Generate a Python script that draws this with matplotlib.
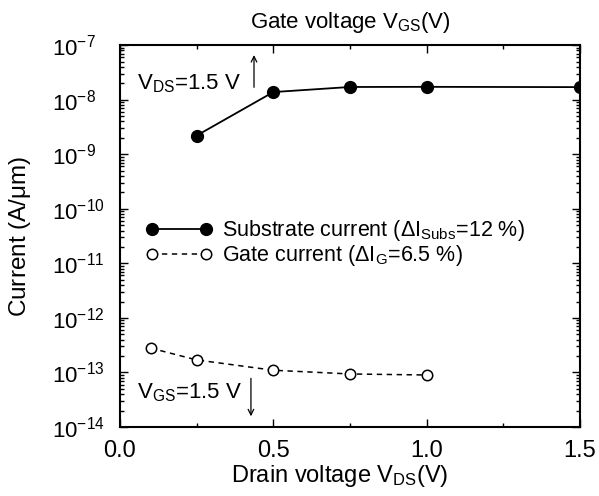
import numpy as np
import matplotlib
matplotlib.use('Agg')
import matplotlib.pyplot as plt
from matplotlib.ticker import LogLocator, MultipleLocator, NullFormatter

# data
vds_subs = [0.25, 0.5, 0.75, 1.0, 1.5]
i_subs = [2.2e-9, 1.38e-8, 1.71e-8, 1.72e-8, 1.70e-8]
vds_gate = [0.1, 0.25, 0.5, 0.75, 1.0]
i_gate = [2.8e-13, 1.7e-13, 1.1e-13, 9.4e-14, 9.0e-14]

plt.rcParams['font.family'] = ['Liberation Sans', 'DejaVu Sans']
plt.rcParams['mathtext.fontset'] = 'custom'
plt.rcParams['mathtext.rm'] = 'Liberation Sans'
plt.rcParams['mathtext.it'] = 'Liberation Sans'
plt.rcParams['mathtext.bf'] = 'Liberation Sans:bold'

fig = plt.figure(figsize=(5.99, 4.96), dpi=100)
ax = fig.add_axes([0.2003, 0.139, 0.768, 0.770])

ax.plot(vds_subs, i_subs, '-', color='black', lw=1.3, marker='o', ms=8.5,
        mfc='black', mec='black', label=r'Substrate current ($\Delta$I$_{\mathrm{Subs}}$=12 %)')
ax.plot(vds_gate, i_gate, '--', color='black', lw=1.1, marker='o', ms=7.5,
        mfc='white', mec='black', mew=1.1, dashes=(3.5, 3),
        label=r'Gate current ($\Delta$I$_{\mathrm{G}}$=6.5 %)')

ax.set_yscale('log')
ax.set_xlim(0, 1.5)
ax.set_ylim(1e-14, 1e-7)
ax.xaxis.set_major_locator(MultipleLocator(0.5))
ax.xaxis.set_minor_locator(MultipleLocator(0.25))
ax.xaxis.set_major_formatter(plt.FormatStrFormatter('%.1f'))
ax.yaxis.set_major_locator(LogLocator(base=10, numticks=20))
ax.yaxis.set_minor_locator(LogLocator(base=10, subs=np.arange(2, 10), numticks=20))
ax.yaxis.set_minor_formatter(NullFormatter())

ax.tick_params(which='both', direction='in', top=True, right=True, width=1.0)
ax.tick_params(which='major', length=6)
ax.tick_params(which='minor', length=3)
ax.tick_params(axis='x', which='major', labelsize=17, pad=9)
ax.tick_params(axis='y', which='major', labelsize=16, pad=49)
for lab in ax.get_yticklabels():
    lab.set_horizontalalignment('left')
for s in ax.spines.values():
    s.set_linewidth(1.5)

ax.set_xlabel(r'Drain voltage V$_{\mathrm{DS}}$(V)', fontsize=17)
ax.xaxis.set_label_coords(0.478, -0.095)
ax.set_ylabel(r'Current (A/$\mu$m)', fontsize=17.5)
ax.yaxis.set_label_coords(-0.19, 0.5)
ax.set_title(r'Gate voltage V$_{\mathrm{GS}}$(V)', fontsize=16, pad=12)

ax.text(0.055, 1.52e-8, r'V$_{\mathrm{DS}}$=1.5 V', fontsize=16, va='baseline', ha='left')
ax.annotate('', xy=(0.437, 7.4e-8), xytext=(0.437, 1.5e-8),
            arrowprops=dict(arrowstyle='->', color='black', lw=0.9))
ax.text(0.055, 3.3e-14, r'V$_{\mathrm{GS}}$=1.5 V', fontsize=16, va='baseline', ha='left')
ax.annotate('', xy=(0.427, 1.4e-14), xytext=(0.427, 8.8e-14),
            arrowprops=dict(arrowstyle='->', color='black', lw=0.9))

ax.legend(loc='upper left', bbox_to_anchor=(0.055, 0.547), frameon=False, fontsize=15.5,
          numpoints=2, handlelength=3.1, handletextpad=0.45, labelspacing=0.0,
          borderpad=0, borderaxespad=0)

fig.savefig('out.png', dpi=100)
